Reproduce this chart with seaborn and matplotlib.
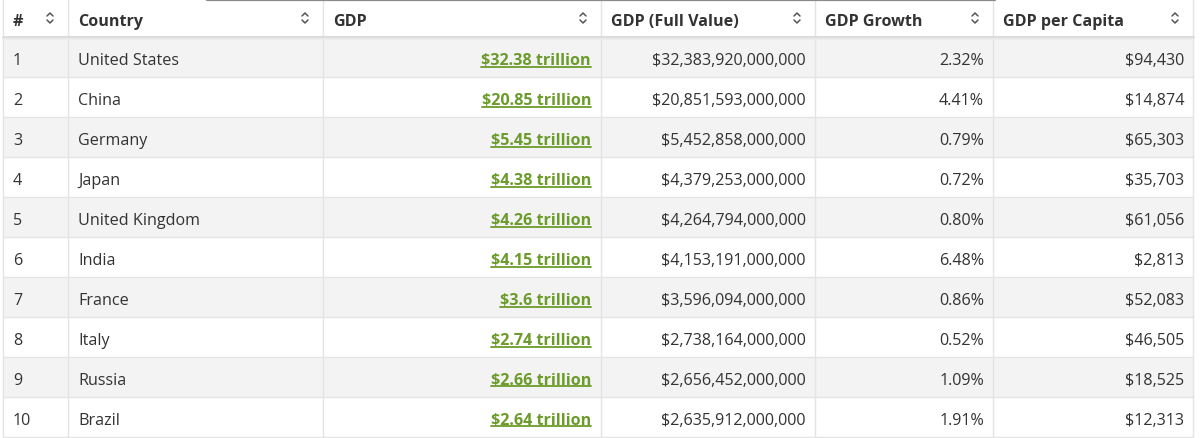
import matplotlib
matplotlib.use("Agg")
import matplotlib.pyplot as plt
import seaborn as sns

ranks = [1, 2, 3, 4, 5, 6, 7, 8, 9, 10]
countries = ["United States", "China", "Germany", "Japan", "United Kingdom",
             "India", "France", "Italy", "Russia", "Brazil"]
gdp_full = [32383920000000, 20851593000000, 5452858000000, 4379253000000,
            4264794000000, 4153191000000, 3596094000000, 2738164000000,
            2656452000000, 2635912000000]
gdp_growth = [2.32, 4.41, 0.79, 0.72, 0.80, 6.48, 0.86, 0.52, 1.09, 1.91]
gdp_per_capita = [94430, 14874, 65303, 35703, 61056, 2813, 52083, 46505, 18525, 12313]
headers = ["#", "Country", "GDP", "GDP (Full Value)", "GDP Growth", "GDP per Capita"]

sns.set_theme(style="white")
plt.rcParams["font.family"] = ["Open Sans", "DejaVu Sans"]

W, H = 1200, 439
fig = plt.figure(figsize=(W / 100, H / 100), dpi=100)
ax = fig.add_axes([0, 0, 1, 1])
ax.set_xlim(0, W)
ax.set_ylim(H, 0)
ax.axis("off")

# column layout (pixels)
col_edges = [3, 68, 323, 601, 815, 993, 1193]
header_h = 38
row_h = 40
text_col = "#333333"
grid_col = "#e4e4e4"
green = "#6b9b2a"
fs = 11.6

# row stripes
for i in range(len(ranks)):
    y0 = header_h + i * row_h
    fc = "#f3f3f3" if i % 2 == 0 else "#ffffff"
    ax.add_patch(plt.Rectangle((col_edges[0], y0), col_edges[-1] - col_edges[0], row_h,
                               facecolor=fc, edgecolor="none", zorder=0))
    ax.plot([col_edges[0], col_edges[-1]], [y0 + row_h, y0 + row_h], color=grid_col, lw=1, zorder=1)

# header bottom shadow
ax.plot([col_edges[0], col_edges[-1]], [header_h - 0.5, header_h - 0.5], color="#dcdcdc", lw=2.2, zorder=2)
ax.plot([col_edges[0], col_edges[-1]], [header_h + 1.5, header_h + 1.5], color="#ececec", lw=1.2, zorder=2)

# vertical separators
for x in col_edges:
    ax.plot([x, x], [0, header_h + row_h * len(ranks)], color=grid_col, lw=1, zorder=1)

# top scroll indicator
ax.plot([207, 995], [0.6, 0.6], color="#8a8a8a", lw=1.6, zorder=3)

# header text + sort icons
hdr_base = 26
hdr_mid = 19
for j, h in enumerate(headers):
    ax.text(col_edges[j] + 10, hdr_base, h, ha="left", va="baseline", fontsize=fs,
            fontweight="bold", color=text_col, zorder=4)
    cx = col_edges[j + 1] - 18
    ax.plot([cx - 3, cx, cx + 3], [hdr_mid - 2, hdr_mid - 5, hdr_mid - 2], color="#555555", lw=1.1, zorder=4,
            solid_capstyle="round", solid_joinstyle="round")
    ax.plot([cx - 3, cx, cx + 3], [hdr_mid + 2, hdr_mid + 5, hdr_mid + 2], color="#555555", lw=1.1, zorder=4,
            solid_capstyle="round", solid_joinstyle="round")

# body
green_texts = []
for i in range(len(ranks)):
    yb = header_h + i * row_h + 27
    ax.text(col_edges[0] + 10, yb, str(ranks[i]), ha="left", va="baseline", fontsize=fs, color=text_col, zorder=4)
    ax.text(col_edges[1] + 10, yb, countries[i], ha="left", va="baseline", fontsize=fs, color=text_col, zorder=4)
    lbl = f"${round(gdp_full[i] / 1e12, 2):g} trillion"
    t = ax.text(col_edges[3] - 10, yb, lbl, ha="right", va="baseline", fontsize=fs,
                fontweight="bold", color=green, zorder=4)
    green_texts.append((t, yb))
    ax.text(col_edges[4] - 9, yb, f"${gdp_full[i]:,}", ha="right", va="baseline", fontsize=fs, color=text_col, zorder=4)
    ax.text(col_edges[5] - 9, yb, f"{gdp_growth[i]:.2f}%", ha="right", va="baseline", fontsize=fs, color=text_col, zorder=4)
    ax.text(col_edges[6] - 9, yb, f"${gdp_per_capita[i]:,}", ha="right", va="baseline", fontsize=fs, color=text_col, zorder=4)

# underline the green link text
fig.canvas.draw()
renderer = fig.canvas.get_renderer()
inv = ax.transData.inverted()
for t, yb in green_texts:
    bb = t.get_window_extent(renderer)
    (x0, _), (x1, _) = inv.transform([(bb.x0, bb.y0), (bb.x1, bb.y1)])
    ax.plot([x0, x1], [yb + 2.5, yb + 2.5], color=green, lw=1.3, zorder=4)

fig.savefig("out.png", dpi=100, facecolor="white")
